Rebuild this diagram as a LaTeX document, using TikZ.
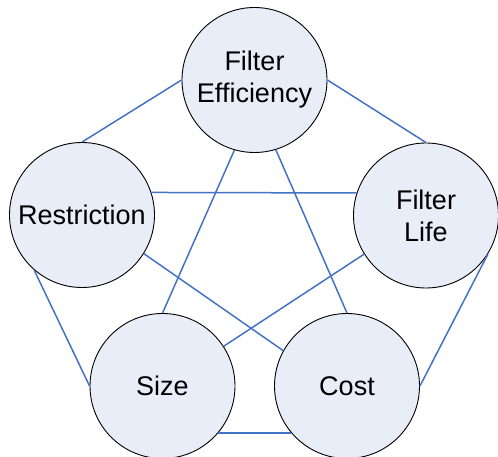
\documentclass[tikz,border=0pt]{standalone}
\usepackage{fontspec}
\setmainfont{Liberation Sans}
\definecolor{circfill}{HTML}{E8EDF7}
\definecolor{linkblue}{HTML}{4472C4}
\begin{document}
\begin{tikzpicture}[x=1pt,y=-1pt,
  bubble/.style={circle,draw=black,line width=0.9pt,fill=circfill,minimum size=145pt,inner sep=0pt,align=center,font=\fontsize{27}{32}\selectfont},
  link/.style={draw=linkblue,line width=1.5pt}]
\useasboundingbox (0,0) rectangle (498,457);
\clip (0,0) rectangle (498,457);
\node[bubble] (fe) at (254.5,80) {Filter\\Efficiency};
\node[bubble] (re) at (82,215) {Restriction};
\node[bubble] (fl) at (426,215.5) {Filter\\Life};
\node[bubble] (si) at (162.5,386) {Size};
\node[bubble] (co) at (347,386) {Cost};
\draw[link] (fe.west) -- (re.north);
\draw[link] (fe.east) -- (fl.north);
\draw[link] (fe.254) -- (si.north);
\draw[link] (fe.287) -- (co.north);
\draw[link] (re.18) -- (fl.162);
\draw[link] (re.-32) -- (co.151);
\draw[link] (re.229) -- (si.west);
\draw[link] (fl.212) -- (si.33);
\draw[link] (fl.-32) -- (co.east);
\draw[link] (si.-40) -- (co.220);
\end{tikzpicture}
\end{document}
